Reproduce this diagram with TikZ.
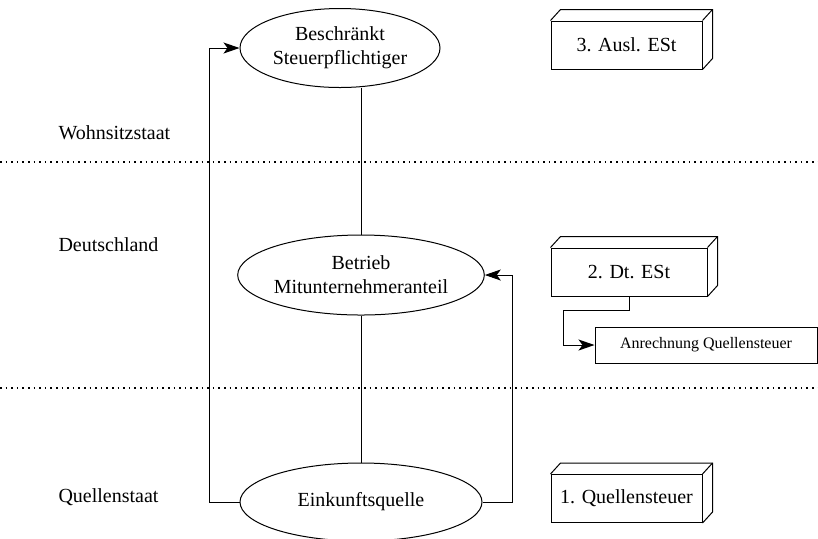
\documentclass[tikz,border=0pt]{standalone}
\usepackage{fontspec}
\setmainfont{Liberation Serif}
\usepackage{tikz}
\usetikzlibrary{positioning}
\usetikzlibrary{shapes.geometric,arrows.meta}

\begin{document}
\begin{tikzpicture}[x = 0.5pt, y = -0.5pt, line width = 0.5pt,
                    pfeil/.style  = {-{Stealth[length = 8pt, width = 5.5pt, inset = 2pt]}},
                    kreis/.style  = {ellipse,
                                     draw,
                                     align = center,
                                     inner sep = 0pt,
                                     font = \fontsize{10}{12}\selectfont},
                    quader/.style = {rectangle,
                                     draw,
                                     minimum width = 75.5pt,
                                     minimum height = 24pt,
                                     font = \fontsize{10}{12}\selectfont},
                    staat/.style  = {anchor = west,
                                     inner sep = 0pt,
                                     font = \fontsize{10}{12}\selectfont},
                    grenze/.style = {dotted, line width = 0.8pt}]

\useasboundingbox (0,0) rectangle (818,538);

% Staaten
\node[staat] (w) at (58,133) {Wohnsitzstaat};
\node[staat] (d) at (58,245) {Deutschland};
\node[staat] (q) at (58,497) {Quellenstaat};

\draw[grenze] (0,162) -- (818,162);
\draw[grenze] (0,388) -- (818,388);

% Ellipsen
\node[kreis, minimum width = 100pt, minimum height = 39.5pt] (s1) at (340,48)
     {Beschränkt\\Steuerpflichtiger};
\node[kreis, minimum width = 121pt, minimum height = 40pt] (s2) at (361,275)
     {Betrieb\\Mitunternehmeranteil};
\node[kreis, minimum width = 121pt, minimum height = 39pt] (s3) at (361,502)
     {Einkunftsquelle};

% Steuern
\node[quader] (b3) at (626.5,45) {3. Ausl. ESt};
\node[quader, minimum width = 78pt] (b2) at (629,272) {2. Dt. ESt};
\node[quader] (b1) at (626.5,498.5) {1. Quellensteuer};
\node[rectangle, draw, minimum width = 111pt, minimum height = 18pt,
      font = \fontsize{8}{10}\selectfont] (anr) at (706,345)
     {Anrechnung Quellensteuer};

\foreach \b in {b1,b2,b3}{
  \draw (\b.north west) -- ++(10,-11) -- ([shift = {(10,-11)}]\b.north east)
        -- ([shift = {(10,-11)}]\b.south east) -- (\b.south east);
  \draw ([shift = {(10,-11)}]\b.north east) -- (\b.north east);
}

% Verbindungen
\draw (s2.north) -- (s2.north |- s1.south);
\draw (s2.south) -- (s3.north);
\draw[pfeil] (s3.west) -- ++(-30,0) |- (s1.west);
\draw[pfeil] (s3.east) -- ++(30,0) |- (s2.east);
\draw[pfeil] (b2.south) |- ++(-66,14) |- (anr.west);

\end{tikzpicture}
\end{document}
